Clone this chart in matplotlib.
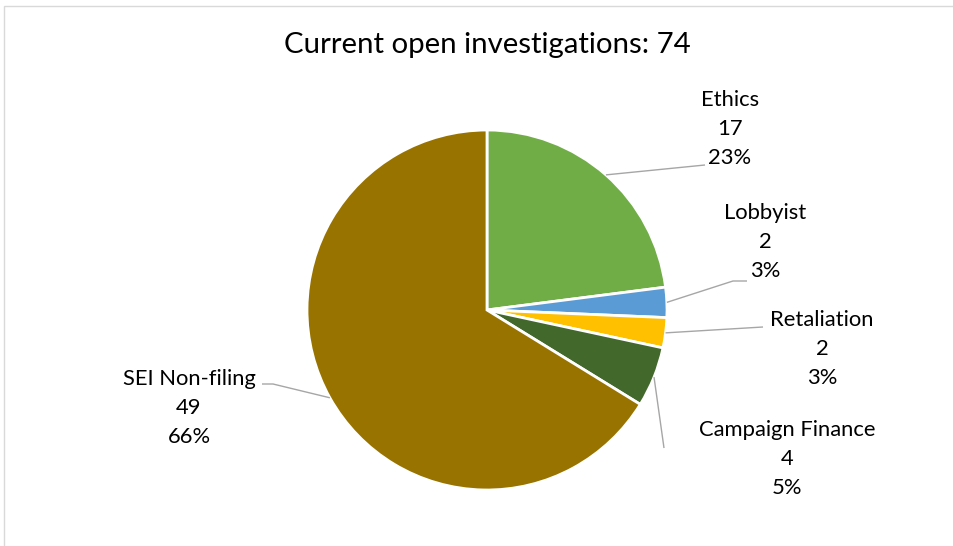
import numpy as np
import matplotlib
matplotlib.use('Agg')
import matplotlib.pyplot as plt
from matplotlib.patches import Rectangle

categories = ['Ethics', 'Lobbyist', 'Retaliation', 'Campaign Finance', 'SEI Non-filing']
counts = [17, 2, 2, 4, 49]
colors = ['#70AD47', '#5B9BD5', '#FFC000', '#43682B', '#997300']

plt.rcParams['font.family'] = ['Lato', 'DejaVu Sans']

W, H = 954, 546
fig = plt.figure(figsize=(W / 100, H / 100), dpi=100)
ax = fig.add_axes([0, 0, 1, 1])

# chart border
fig.patches.append(Rectangle((4 / W, -0.01), 1.0, (H - 6) / H + 0.01,
                             transform=fig.transFigure, fill=False,
                             edgecolor='#D9D9D9', linewidth=1.0))

cx, cy, r = 487, H - 310, 180
wedges, _ = ax.pie(counts, colors=colors, startangle=90, counterclock=False,
                   center=(cx, cy), radius=r, frame=True,
                   wedgeprops=dict(edgecolor='white', linewidth=2.0))
ax.set_xlim(0, W)
ax.set_ylim(0, H)
ax.set_aspect('equal')
ax.axis('off')

total = sum(counts)
# label text centers (top line) and leader line bends, in pixels from top-left
label_pos = [(730, 100), (765, 213), (822, 320), (787, 430), (189, 379)]
leader_pts = [[(705, 165)],
              [(733, 281), (747, 281)],
              [(763, 327)],
              [(664, 448)],
              [(273, 384), (262, 384)]]

for w, name, n, (lx, ly), pts in zip(wedges, categories, counts, label_pos, leader_pts):
    ang = np.deg2rad((w.theta1 + w.theta2) / 2)
    ex, ey = cx + r * np.cos(ang), cy + r * np.sin(ang)
    xs = [ex] + [p[0] for p in pts]
    ys = [ey] + [H - p[1] for p in pts]
    ax.plot(xs, ys, color='#A6A6A6', linewidth=1.0, solid_capstyle='butt')
    pct = '{:.0f}%'.format(100 * n / total)
    for i, line in enumerate([name, str(n), pct]):
        ax.text(lx, H - ly - 29 * i, line, ha='center', va='center',
                fontsize=15.8, color='#000000')

ax.text(487, H - 45, 'Current open investigations: 74', ha='center', va='center',
        fontsize=21.2, color='#000000')

fig.savefig('out.png', dpi=100)
